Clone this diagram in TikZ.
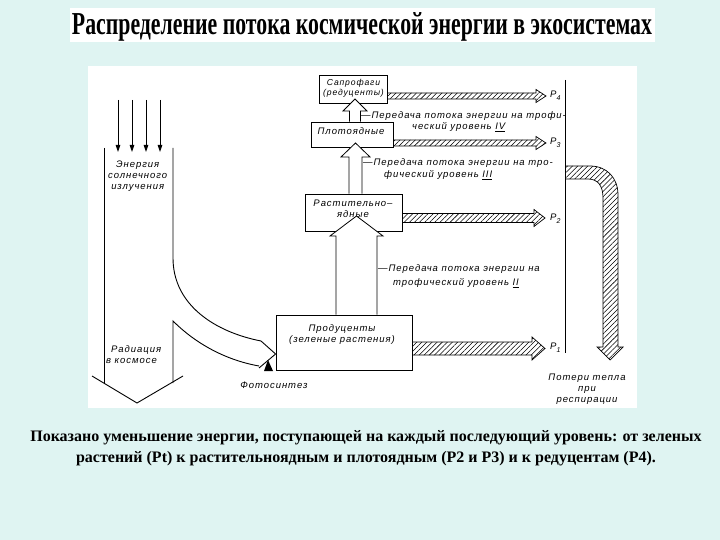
\documentclass[tikz,border=0pt]{standalone}
\usepackage{fontspec}
\usepackage{graphicx}
\setmainfont{Liberation Serif}
\newfontfamily\drw[LetterSpace=10]{Liberation Sans}
\usetikzlibrary{arrows.meta,patterns,patterns.meta,calc}
\definecolor{bgc}{RGB}{223,244,242}
\newcommand\pl[1]{P\raisebox{-3pt}{\fontsize{7}{7}\selectfont #1}}
\begin{document}
\begin{tikzpicture}[x=1pt,y=-1pt,
  box/.style={draw,line width=0.8pt,fill=white,inner sep=0pt},
  txt/.style={font=\drw\itshape\fontsize{9.5}{11}\selectfont,inner sep=0pt,align=center},
  hatch/.style={draw,line width=0.7pt,pattern={Lines[angle=45,distance=3.6pt,line width=0.55pt]}},
  hollow/.style={draw,line width=0.8pt,fill=white},
  ln/.style={line width=0.9pt},
  sun/.style={line width=0.9pt,-{Triangle[length=7pt,width=4.5pt]}}]
\fill[bgc] (0,0) rectangle (720,540);
\useasboundingbox (0,0) rectangle (720,540);
% title
\fill[white] (70,8) rectangle (655,42);
\node[anchor=base,inner sep=0pt] (title) at (362,35) {\resizebox{580pt}{22pt}{\bfseries Распределение потока космической энергии в экосистемах}};
% diagram area
\fill[white] (88,66) rectangle (637,408);
% boxes
\node[box,minimum width=136pt,minimum height=55pt] (prod) at (344,342.5) {};
\node[box,minimum width=97pt,minimum height=37pt] (herb) at (353.5,212.5) {};
\node[box,minimum width=82pt,minimum height=25pt] (carn) at (352,134.5) {};
\node[box,minimum width=68pt,minimum height=28pt] (sapr) at (353.5,89) {};
\node[txt] (prodt) at (342,335) {Продуценты\\(зеленые растения)};
\node[txt] (herbt) at (353,209) {Растительно–\\ядные};
\node[txt] (carnt) at (351,131) {Плотоядные};
\node[txt,font=\drw\itshape\fontsize{8.6}{10.5}\selectfont] (saprt) at (353.5,88.5) {Сапрофаги\\(редуценты)};
% hollow arrows between levels
\draw[hollow] (prod.north -| 336,0) -- (336,236) -- (330,236) -- (356.5,216) -- (383,236) -- (377,236) -- (prod.north -| 377,0);
\draw[hollow] (herb.north -| 349,0) -- (349,157) -- (341,157) -- (355.5,143) -- (370,157) -- (362,157) -- (herb.north -| 362,0);
\draw[hollow] (carn.north -| 349.5,0) -- (349.5,111) -- (343,111) -- (355,99) -- (367,111) -- (360.5,111) -- (carn.north -| 360.5,0);
% hatched output arrows
\draw[hatch] (412,342) -- (532,342) -- (532,337) -- (545,348.5) -- (532,360) -- (532,355) -- (412,355);
\draw[hatch] (402,213.5) -- (534,213.5) -- (534,209.5) -- (545,218) -- (534,226.5) -- (534,222.5) -- (402,222.5);
\draw[hatch] (393,140) -- (536,140) -- (536,136.5) -- (546,143) -- (536,149.5) -- (536,146) -- (393,146);
\draw[hatch] (387,93) -- (536,93) -- (536,89.5) -- (546,96) -- (536,102.5) -- (536,99) -- (387,99);
\node[txt,anchor=west] (p1) at (550,348) {\pl{1}};
\node[txt,anchor=west] (p2) at (550,219) {\pl{2}};
\node[txt,anchor=west] (p3) at (550,143) {\pl{3}};
\node[txt,anchor=west] (p4) at (550,96) {\pl{4}};
% transfer labels
\node[txt,anchor=west] (l4a) at (361,116) {—Передача потока энергии на трофи-};
\node[txt,anchor=west] (l4b) at (412,127) {ческий уровень \underline{IV}};
\node[txt,anchor=west] (l3a) at (363,163) {—Передача потока энергии на тро-};
\node[txt,anchor=west] (l3b) at (384,175) {фический уровень \underline{III}};
\node[txt,anchor=west] (l2a) at (378,269) {—Передача потока энергии на};
\node[txt,anchor=west] (l2b) at (393,283) {трофический уровень \underline{II}};
% heat loss
\draw[ln] (565,80) -- (565,353);
\draw[hatch] (565,166) -- (590,166) .. controls (607,166) and (618,178) .. (618,195) -- (618,347) -- (623,347) -- (610,360) -- (597,347) -- (603,347) -- (603,198) .. controls (603,186) and (598,179) .. (588,179) -- (565,179);
\node[txt] (heat) at (587,389) {Потери тепла\\при\\респирации};
% solar input
\foreach \x in {118,132,146,160}{
  \coordinate (s\x a) at (\x,100);
  \coordinate (s\x b) at (\x,152);
  \draw[sun] (s\x a) -- (s\x b);
}
\draw[ln] (104,148) -- (104,383);
\draw[ln] (173,148) -- (173,258) .. controls (173,305) and (215,332) .. (261,341) -- (prod.west |- 0,354) -- (259,368);
\draw[ln] (173,383) -- (173,321) .. controls (195,343) and (225,360) .. (259,366);
\draw[ln] (92,376) -- (137,403) -- (183,376);
\fill (268,360) -- (273,371) -- (264,371) -- cycle;
\node[txt,anchor=west] (sol) at (108,176) {Энергия\\солнечного\\излучения};
\node[txt,anchor=west,align=left] (rad) at (106,355) {\hspace*{5pt}Радиация\\в космосе};
\node[txt] (phot) at (274,385) {Фотосинтез};
% caption
\node[font=\bfseries\fontsize{16}{21}\selectfont,align=center,inner sep=0pt] (cap) at (366,448) {Показано уменьшение энергии, поступающей на каждый последующий уровень: от зеленых\\растений (Pt) к растительноядным и плотоядным (P2 и P3) и к редуцентам (P4).};
\end{tikzpicture}
\end{document}
